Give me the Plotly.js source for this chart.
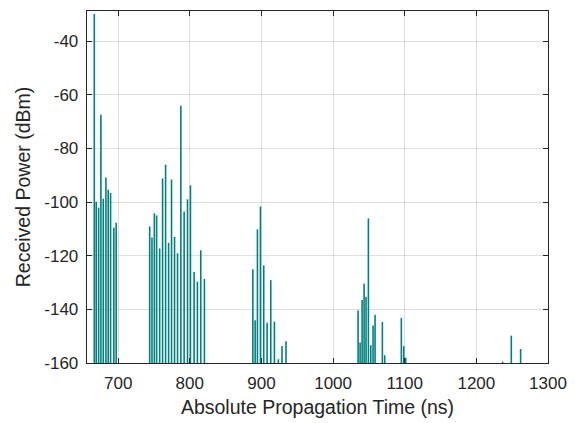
<!DOCTYPE html>
<html>
<head>
<meta charset="utf-8">
<script src="https://cdn.plot.ly/plotly-3.0.1.min.js"></script>
<style>html,body{margin:0;padding:0;background:#fff;}#chart{width:577px;height:423px;}</style>
</head>
<body>
<div id="chart"></div>
<script>
// Absolute propagation time of each multipath component (ns)
var delays = [
  666.7, 669.4, 672.7, 675.9, 679.2, 682.9, 686.1, 689.4, 694.0, 697.2,
  744.0, 747.2, 750.5, 753.7, 757.9, 762.0, 766.2, 770.4, 774.5, 778.7,
  782.9, 787.5, 792.1, 796.8, 800.9, 806.0, 810.6, 815.3, 820.4,
  888.0, 891.2, 894.4, 898.6, 903.2, 907.9, 913.0, 918.1, 923.6, 928.7, 934.3,
  1034.9, 1037.7, 1040.5, 1043.3, 1046.0, 1049.3, 1052.6, 1055.8, 1058.6,
  1068.8, 1072.1, 1095.3, 1098.6, 1101.4,
  1236.7, 1248.8, 1261.8
];
// Received power of each component (dBm)
var powers = [
  -29.9, -99.9, -102.1, -67.5, -98.8, -90.9, -95.4, -96.6, -109.6, -107.7,
  -109.1, -113.2, -104.2, -105.0, -117.3, -91.2, -86.1, -115.2, -91.6, -113.0,
  -119.1, -64.1, -103.5, -99.0, -93.8, -126.1, -129.7, -118.0, -128.7,
  -125.1, -144.1, -110.2, -101.7, -123.6, -145.0, -129.1, -144.6, -158.6, -153.7, -151.9,
  -140.4, -152.4, -136.5, -130.4, -135.3, -106.1, -153.4, -146.0, -142.0,
  -144.7, -157.1, -143.2, -153.7, -158.0,
  -159.5, -149.8, -154.8
];
var baseLevel = -160;
var xTickVals = [700, 800, 900, 1000, 1100, 1200, 1300];
var yTickVals = [-160, -140, -120, -100, -80, -60, -40];

var sx = [], sy = [];
for (var i = 0; i < delays.length; i++) {
  sx.push(delays[i], delays[i], null);
  sy.push(baseLevel, powers[i], null);
}

var axisCol = '#262626';
var trace = {
  x: sx, y: sy, type: 'scatter', mode: 'lines',
  line: {color: '#008080', width: 1.6},
  connectgaps: false, hoverinfo: 'skip', showlegend: false
};
var layout = {
  width: 577, height: 423,
  margin: {l: 87, r: 29, t: 11, b: 60},
  paper_bgcolor: '#fff', plot_bgcolor: '#fff',
  font: {family: 'Liberation Sans, Arial, sans-serif', color: axisCol, size: 17},
  xaxis: {
    range: [656.5, 1300], tickvals: xTickVals, ticktext: xTickVals.map(String),
    showgrid: true, gridcolor: 'rgba(38,38,38,0.15)', gridwidth: 1,
    zeroline: false, showline: true, linecolor: axisCol, linewidth: 1.3,
    mirror: 'ticks', ticks: 'inside', ticklen: 5, tickcolor: axisCol,
    ticklabelstandoff: 4,
    tickfont: {size: 17, color: axisCol},
    title: {text: 'Absolute Propagation Time (ns)', font: {size: 19.5, color: axisCol}, standoff: 8}
  },
  yaxis: {
    range: [-160, -28.8], tickvals: yTickVals, ticktext: yTickVals.map(String),
    showgrid: true, gridcolor: 'rgba(38,38,38,0.15)', gridwidth: 1,
    zeroline: false, showline: true, linecolor: axisCol, linewidth: 1.3,
    mirror: 'ticks', ticks: 'inside', ticklen: 5, tickcolor: axisCol,
    ticklabelstandoff: 4,
    tickfont: {size: 17, color: axisCol},
    title: {text: 'Received Power (dBm)', font: {size: 19.5, color: axisCol}, standoff: 8}
  }
};
Plotly.newPlot('chart', [trace], layout, {staticPlot: true, displayModeBar: false});
</script>
</body>
</html>
